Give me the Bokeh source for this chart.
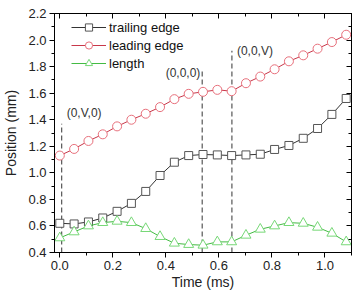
from bokeh.plotting import figure
from bokeh.models import (LinearAxis, SingleIntervalTicker, Legend, LegendItem, Range1d,
                          NumeralTickFormatter, CustomJSTickFormatter)
from bokeh.core.properties import value
from bokeh.embed import file_html
from bokeh.resources import INLINE

times = [0.0, 0.054, 0.108, 0.162, 0.216, 0.27, 0.324, 0.378, 0.432, 0.486, 0.54,
         0.594, 0.648, 0.702, 0.756, 0.81, 0.864, 0.918, 0.972, 1.026, 1.08]
trailing = [0.62, 0.615, 0.63, 0.66, 0.71, 0.77, 0.86, 0.98, 1.08, 1.13, 1.138,
            1.135, 1.13, 1.135, 1.14, 1.176, 1.206, 1.26, 1.334, 1.44, 1.56]
leading = [1.13, 1.18, 1.24, 1.29, 1.35, 1.40, 1.445, 1.495, 1.555, 1.595, 1.61,
           1.625, 1.615, 1.675, 1.725, 1.78, 1.84, 1.885, 1.935, 1.985, 2.04]
length = [0.51, 0.555, 0.60, 0.625, 0.635, 0.625, 0.58, 0.52, 0.47, 0.46, 0.455,
          0.48, 0.48, 0.53, 0.575, 0.60, 0.625, 0.62, 0.59, 0.545, 0.48]

marker_times = [0.007, 0.537, 0.649]
marker_tops = [1.37, 1.78, 1.92]
marker_labels = ["(0,V,0)", "(0,0,0)", "(0,0,V)"]
label_x = [0.026, 0.530, 0.668]
label_y = [1.45, 1.755, 1.92]
label_align = ["left", "right", "left"]

FONT = "Liberation Sans"

p = figure(width=352, height=292, output_backend="svg", toolbar_location=None,
           x_range=Range1d(-0.02, 1.1), y_range=Range1d(0.4, 2.2),
           min_border_left=50, min_border_right=1, min_border_top=13, min_border_bottom=40)
p.background_fill_color = "white"
p.border_fill_color = "white"
p.outline_line_color = "black"
p.outline_line_width = 1
p.grid.visible = False

p.xaxis.ticker = SingleIntervalTicker(interval=0.2, num_minor_ticks=2)
p.yaxis.ticker = SingleIntervalTicker(interval=0.2, num_minor_ticks=2)
p.xaxis.formatter = NumeralTickFormatter(format="0.0")
p.yaxis.formatter = NumeralTickFormatter(format="0.0")

for ax in [p.xaxis[0], p.yaxis[0]]:
    ax.major_tick_out = 5
    ax.major_tick_in = 0
    ax.minor_tick_out = 3
    ax.minor_tick_in = 0
    ax.major_label_standoff = 3
    ax.major_label_text_font = FONT
    ax.major_label_text_font_size = "13px"
    ax.major_label_text_color = "#222222"
    ax.axis_label_text_font = FONT
    ax.axis_label_text_font_size = "14px"
    ax.axis_label_text_font_style = "normal"
    ax.axis_label_text_color = "#222222"
    ax.axis_line_color = "black"
    ax.major_tick_line_color = "black"
    ax.minor_tick_line_color = "black"

p.xaxis.axis_label = "Time (ms)"
p.yaxis.axis_label = "Position (mm)"
p.xaxis.axis_label_standoff = 1
p.yaxis.axis_label_standoff = 6

for loc in ["above", "right"]:
    ax = LinearAxis(ticker=SingleIntervalTicker(interval=0.2, num_minor_ticks=2),
                    formatter=CustomJSTickFormatter(code="return '';"))
    ax.major_tick_in = 5
    ax.major_tick_out = 0
    ax.minor_tick_in = 3
    ax.minor_tick_out = 0
    ax.major_label_standoff = 0
    ax.axis_line_color = "black"
    p.add_layout(ax, loc)

# dashed vertical markers
p.segment(x0=marker_times, y0=[0.4] * 3, x1=marker_times, y1=marker_tops,
          line_color="#555555", line_width=1.2, line_dash="5 3")
p.text(x=label_x, y=label_y, text=marker_labels, text_align=label_align,
       text_baseline="middle", text_font=value(FONT), text_font_size="12px",
       text_color="#333333")

tl = p.line(times, trailing, line_color="#333333", line_width=1)
ts = p.scatter(times, trailing, marker="square", size=8, line_color="#555555",
               fill_color="white", line_width=1)
ll = p.line(times, leading, line_color="#c8384a", line_width=1)
lc = p.scatter(times, leading, marker="circle", size=9, line_color="#e8707c",
               fill_color="white", line_width=1)
gl = p.line(times, length, line_color="#44bb44", line_width=1)
gs = p.scatter(times, length, marker="triangle", size=10, line_color="#77d877",
               fill_color="white", line_width=1)

legend = Legend(items=[LegendItem(label="trailing edge", renderers=[tl, ts]),
                       LegendItem(label="leading edge", renderers=[ll, lc]),
                       LegendItem(label="length", renderers=[gl, gs])],
                location=(17, 180), margin=0, padding=0, spacing=0,
                label_height=18, glyph_height=18, glyph_width=35,
                label_standoff=3, label_text_font=FONT, label_text_font_size="13px",
                label_text_color="#111111", border_line_color=None,
                background_fill_alpha=0)
p.add_layout(legend, "center")

open("out.html", "w").write(file_html(p, INLINE))
